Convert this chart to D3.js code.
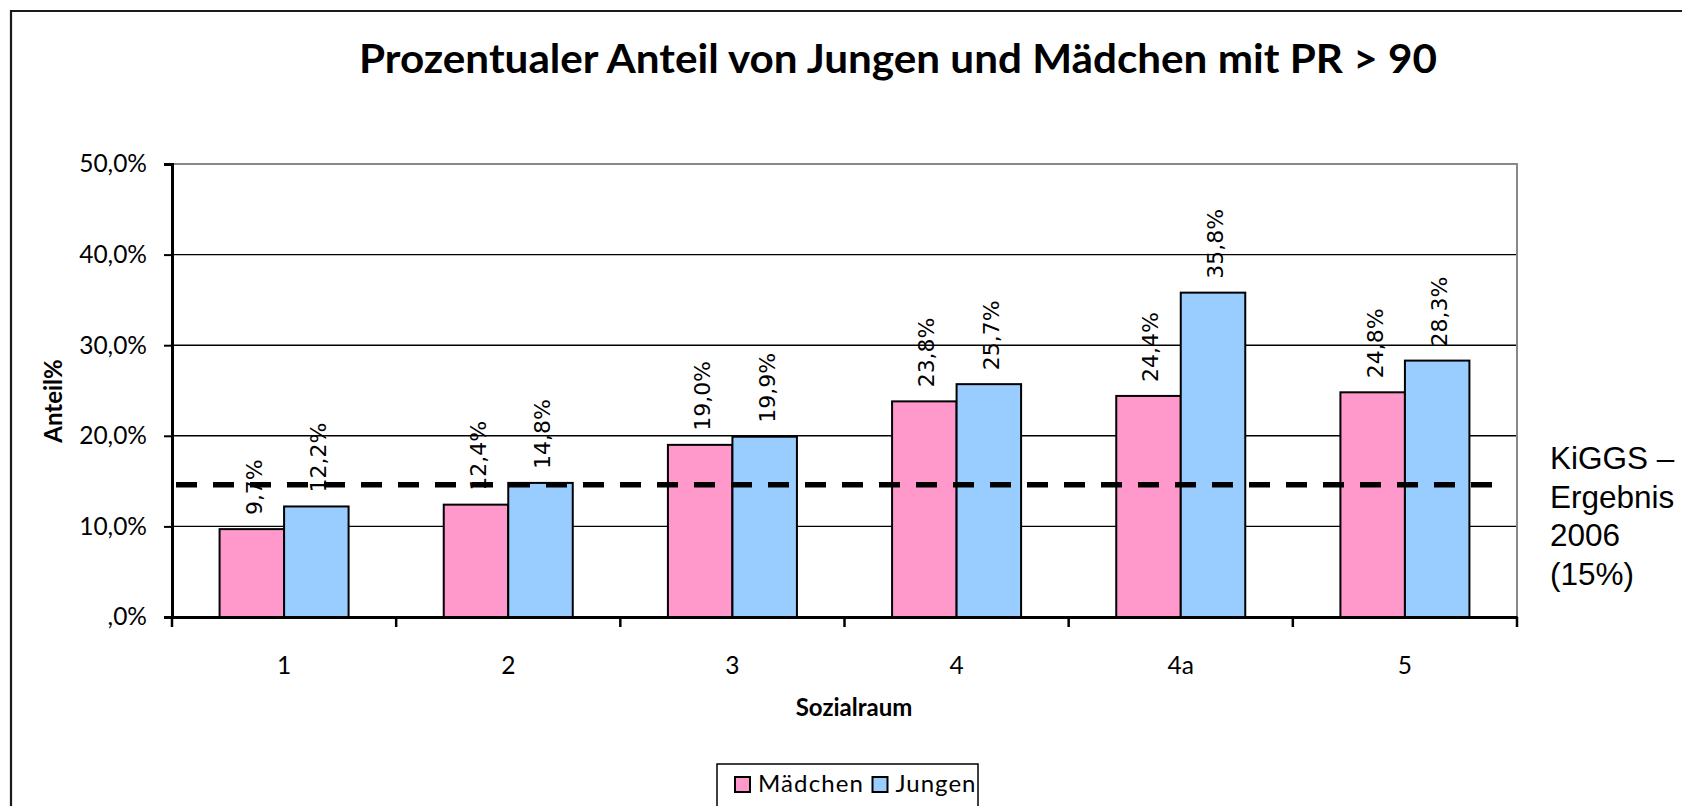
<!DOCTYPE html>
<html>
<head>
<meta charset="utf-8">
<script src="https://cdn.jsdelivr.net/npm/d3@7"></script>
<style>
  html, body { margin: 0; padding: 0; background: #fff; overflow: hidden; }
  svg { display: block; }
</style>
</head>
<body>
<svg id="chart" width="1682" height="806"></svg>
<script>
// ---- data ----
const categories = ["1", "2", "3", "4", "4a", "5"];
const seriesNames = ["Mädchen", "Jungen"];
const maedchen = [9.7, 12.4, 19.0, 23.8, 24.4, 24.8];
const jungen = [12.2, 14.8, 19.9, 25.7, 35.8, 28.3];
const yTicks = [0, 10, 20, 30, 40, 50];
const yTickLabels = [",0%", "10,0%", "20,0%", "30,0%", "40,0%", "50,0%"];
const referenceValue = 14.6;
const referenceLabel = ["KiGGS –", "Ergebnis", "2006", "(15%)"];
const titleText = "Prozentualer Anteil von Jungen und Mädchen mit PR > 90";
const xTitle = "Sozialraum";
const yTitle = "Anteil%";

// ---- layout ----
const colors = ["#FF99CC", "#99CCFF"];
const plot = { left: 172, right: 1517, top: 164, bottom: 617 };
const calibri = "Lato, 'Open Sans', sans-serif";
const svg = d3.select("#chart");

// outer frame (only top and left edges are inside the picture)
svg.append("path").attr("d", "M11,806V11H1682")
  .attr("fill", "none").attr("stroke", "#1a1a1a").attr("stroke-width", 2.2);

const x = d3.scaleBand().domain(categories).range([plot.left, plot.right])
  .paddingInner(0.4245).paddingOuter(0.21225);
const xs = d3.scaleBand().domain(seriesNames).range([0, x.bandwidth()]);
const y = d3.scaleLinear().domain([0, 50]).range([plot.bottom, plot.top]);

// gridlines
svg.append("g").selectAll("line").data(yTicks.filter(d => d > 0 && d < 50)).join("line")
  .attr("x1", plot.left).attr("x2", plot.right)
  .attr("y1", d => y(d)).attr("y2", d => y(d))
  .attr("stroke", "#000").attr("stroke-width", 1.4);

// plot border top/right (gray)
svg.append("path")
  .attr("d", `M${plot.left},${y(50)}H${plot.right}V${plot.bottom}`)
  .attr("fill", "none").attr("stroke", "#888").attr("stroke-width", 2);

// bars
const seriesData = [maedchen, jungen];
seriesData.forEach((vals, si) => {
  svg.append("g").selectAll("rect").data(vals).join("rect")
    .attr("x", (d, i) => x(categories[i]) + xs(seriesNames[si]))
    .attr("width", xs.bandwidth())
    .attr("y", d => y(d))
    .attr("height", d => y(0) - y(d))
    .attr("fill", colors[si])
    .attr("stroke", "#000").attr("stroke-width", 2);
});

// data labels (rotated)
const fmt = v => v.toFixed(1).replace(".", ",") + "%";
seriesData.forEach((vals, si) => {
  svg.append("g").selectAll("text").data(vals).join("text")
    .attr("transform", (d, i) => {
      const cx = x(categories[i]) + xs(seriesNames[si]) + xs.bandwidth() / 2 + 2;
      return `translate(${cx},${y(d) - 14}) rotate(-90)`;
    })
    .attr("dy", "0.36em")
    .attr("text-anchor", "start")
    .attr("font-family", "'DejaVu Sans', sans-serif")
    .attr("font-size", 22)
    .attr("fill", "#000")
    .text(d => fmt(d));
});

// y axis
const yAxis = d3.axisLeft(y).tickValues(yTicks)
  .tickFormat(d => yTickLabels[yTicks.indexOf(d)])
  .tickSize(8).tickPadding(17);
const gy = svg.append("g").attr("transform", `translate(${plot.left},0)`).call(yAxis);
gy.select(".domain").attr("stroke", "#000").attr("stroke-width", 3);
gy.selectAll(".tick line").attr("stroke", "#000").attr("stroke-width", 2);
gy.selectAll(".tick text").attr("font-family", calibri).attr("font-size", 24.5).attr("fill", "#000");

// x axis
const xAxis = d3.axisBottom(x).tickSize(0).tickPadding(0);
const gx = svg.append("g").attr("transform", `translate(0,${plot.bottom})`).call(xAxis);
gx.select(".domain").attr("stroke", "#000").attr("stroke-width", 3);
gx.selectAll(".tick text").attr("font-family", calibri).attr("font-size", 24.5).attr("fill", "#000")
  .attr("y", 57).attr("dy", 0);
// tick marks at category boundaries
const bounds = categories.map(c => x(c) - x.step() * x.paddingInner() / 2).concat([plot.right]);
gx.append("g").selectAll("line").data(bounds).join("line")
  .attr("x1", d => d).attr("x2", d => d).attr("y1", 0).attr("y2", 10)
  .attr("stroke", "#000").attr("stroke-width", 2.5);

// reference dashed line
svg.append("line")
  .attr("x1", plot.left + 4).attr("x2", plot.right - 12)
  .attr("y1", y(referenceValue)).attr("y2", y(referenceValue))
  .attr("stroke", "#000").attr("stroke-width", 5.5)
  .attr("stroke-dasharray", "21,16");

// reference label
svg.append("text").attr("x", 1550).attr("y", 469)
  .attr("font-family", "'Liberation Sans', Arial, sans-serif").attr("font-size", 31.5).attr("fill", "#000")
  .selectAll("tspan").data(referenceLabel).join("tspan")
  .attr("x", 1550).attr("dy", (d, i) => i === 0 ? 0 : 38.7)
  .text(d => d);

// title
svg.append("text").attr("x", 898).attr("y", 73).attr("text-anchor", "middle")
  .attr("font-family", calibri).attr("font-weight", "bold").attr("font-size", 39.5)
  .attr("textLength", 1078).attr("lengthAdjust", "spacingAndGlyphs")
  .attr("fill", "#000").text(titleText);

// axis titles
svg.append("text").attr("x", 854).attr("y", 716).attr("text-anchor", "middle")
  .attr("font-family", calibri).attr("font-weight", "bold").attr("font-size", 24)
  .attr("fill", "#000").text(xTitle);
svg.append("text").attr("transform", "translate(62,401) rotate(-90)").attr("text-anchor", "middle")
  .attr("font-family", calibri).attr("font-weight", "bold").attr("font-size", 24)
  .attr("fill", "#000").text(yTitle);

// legend
const lg = svg.append("g");
lg.append("rect").attr("x", 717).attr("y", 764).attr("width", 261).attr("height", 60)
  .attr("fill", "#fff").attr("stroke", "#000").attr("stroke-width", 1.5);
const legendX = [735, 872.5];
const legendTextW = [105, 80];
seriesNames.forEach((name, i) => {
  lg.append("rect").attr("x", legendX[i]).attr("y", 777).attr("width", 15).attr("height", 15)
    .attr("fill", colors[i]).attr("stroke", "#000").attr("stroke-width", 2);
  lg.append("text").attr("x", legendX[i] + 23).attr("y", 792)
    .attr("font-family", calibri).attr("font-size", 24).attr("fill", "#000")
    .attr("textLength", legendTextW[i]).attr("lengthAdjust", "spacing")
    .text(name);
});
</script>
</body>
</html>
